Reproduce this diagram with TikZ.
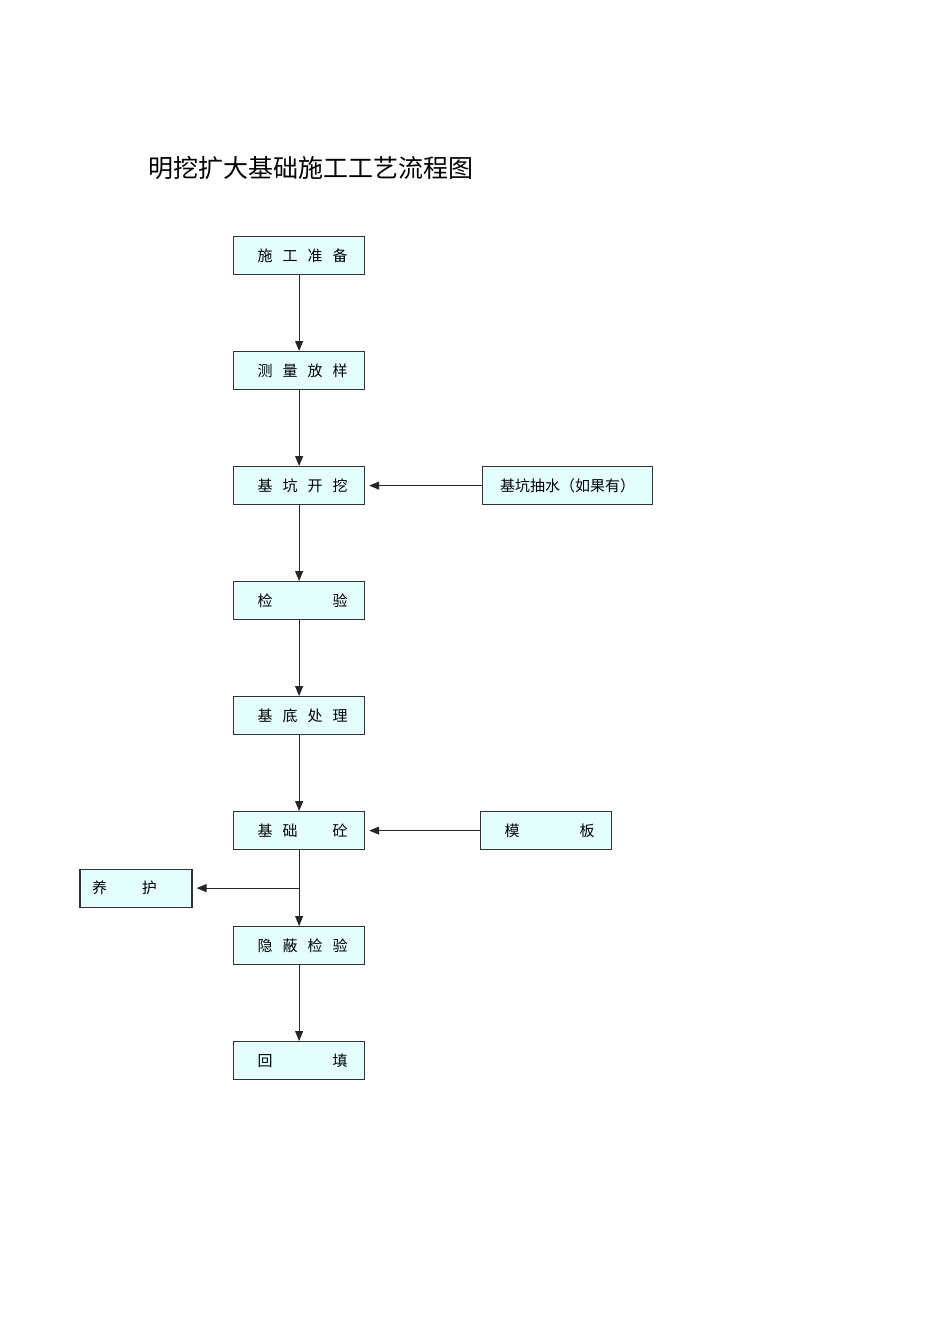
\documentclass[tikz,border=0pt]{standalone}
\usepackage{fontspec}
\setmainfont{Noto Sans CJK SC}
\usetikzlibrary{arrows.meta,positioning,calc}
\definecolor{boxfill}{HTML}{E5FFFF}
\definecolor{boxline}{HTML}{333333}
\newcommand{\spread}[2]{\makebox[#1][s]{#2}}

\begin{document}
\begin{tikzpicture}[
  x=1pt, y=1pt,
  >={Triangle[width=8pt,length=10pt]},
  stepbox/.style={
    draw=boxline,
    fill=boxfill,
    line width=1.2pt,
    minimum width=131pt,
    minimum height=38pt,
    inner sep=0pt,
    font=\fontsize{15pt}{18pt}\selectfont
  },
  flowarrow/.style={
    ->,
    line width=1.1pt,
    draw=black!85
  }
]
  \useasboundingbox (0,0) rectangle (950,-1344);

  % Title
  \node[anchor=west, font=\fontsize{25pt}{30pt}\selectfont] (title) at (145,-168) {明挖扩大基础施工工艺流程图};

  % --- Main column ---
  \node[stepbox, anchor=north west] (s1) at (233,-236) {\hspace*{7pt}\spread{90pt}{施\hfill 工\hfill 准\hfill 备}};
  \node[stepbox, below=75.8pt of s1] (s2) {\hspace*{7pt}\spread{90pt}{测\hfill 量\hfill 放\hfill 样}};
  \node[stepbox, below=75.8pt of s2] (s3) {\hspace*{7pt}\spread{90pt}{基\hfill 坑\hfill 开\hfill 挖}};
  \node[stepbox, below=75.8pt of s3] (s4) {\hspace*{7pt}\spread{90pt}{检\hfill 验}};
  \node[stepbox, below=75.8pt of s4] (s5) {\hspace*{7pt}\spread{90pt}{基\hfill 底\hfill 处\hfill 理}};
  \node[stepbox, below=75.8pt of s5] (s6) {\hspace*{7pt}\spread{90pt}{基\hfill 础\hfill \hphantom{基}\hfill 砼}};
  \node[stepbox, below=75.8pt of s6] (s7) {\hspace*{7pt}\spread{90pt}{隐\hfill 蔽\hfill 检\hfill 验}};
  \node[stepbox, below=75.8pt of s7] (s8) {\hspace*{7pt}\spread{90pt}{回\hfill 填}};

  % --- Side boxes ---
  \node[stepbox, minimum width=170pt, right=116.8pt of s3] (pump) {基坑抽水（如果有）};
  \node[stepbox, right=114.8pt of s6] (form) {\hspace*{7pt}\spread{90pt}{模\hfill 板}};
  \coordinate (branch) at ($(s6.south)!0.5!(s7.north)$);
  \node[stepbox, minimum width=112pt, anchor=east] (cure) at ($(branch) + (-106.5,0)$) {\spread{65pt}{养\hfill 护}\hspace*{23pt}};

  % Connecting arrows
  \foreach \a/\b in {s1/s2, s2/s3, s3/s4, s4/s5, s5/s6, s6/s7, s7/s8}
    \draw[flowarrow] (\a.south) -- (\b.north);
  \draw[flowarrow, shorten >=4pt] (pump.west) -- (s3.east);
  \draw[flowarrow, shorten >=4pt] (form.west) -- (s6.east);
  \draw[flowarrow, shorten >=4pt] (branch) -- (cure.east);

\end{tikzpicture}
\end{document}
